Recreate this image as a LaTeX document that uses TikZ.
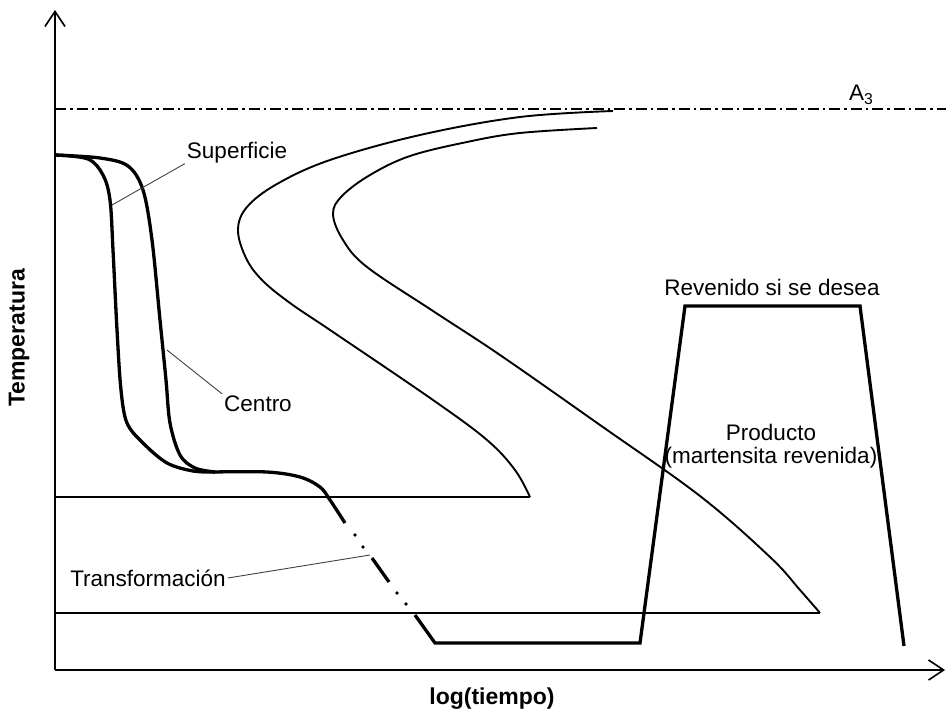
\documentclass[tikz,border=0pt]{standalone}
\usepackage{fontspec}
\setmainfont{Liberation Sans}
\usetikzlibrary{arrows.meta}
\begin{document}
\begin{tikzpicture}[x=1pt,y=-1pt,
  axisline/.style={line width=2pt,-{Straight Barb[length=15pt,width=20pt,line width=1.6pt]}},
  coolline/.style={line width=3.3pt,line join=round},
  tcurve/.style={line width=1.9pt,line join=round},
  hline/.style={line width=1.9pt},
  leader/.style={line width=0.9pt,black!75},
  lbl/.style={inner sep=0pt,font=\fontsize{22.5}{26}\selectfont},
  axlbl/.style={inner sep=0pt,font=\fontsize{23}{27}\selectfont\bfseries},
  dotmark/.style={fill=black,circle,inner sep=0pt,minimum size=3.8pt}]
\useasboundingbox (0,0) rectangle (946,717);

% axes
\coordinate (O) at (55,670);
\coordinate (ytop) at (55,10);
\coordinate (xend) at (945,670);
\draw[axisline] (O) -- (ytop);
\draw[axisline] (O) -- (xend);
\node[axlbl,rotate=90] (ylab) at (19,338) {Temperatura};
\node[axlbl] (xlab) at (492,699) {log(tiempo)};

% A3 line
\coordinate (a3l) at (55,109);
\coordinate (a3r) at (946,109);
\draw[line width=2.5pt,dash pattern=on 11pt off 4pt on 2.5pt off 4pt] (a3l) -- (a3r);
\node[lbl,anchor=base west] (a3) at (849,101) {A\textsubscript{3}};

% start and end of transformation
\draw[tcurve] plot[smooth,tension=0.6] coordinates {
  (613,111) (520,117) (420,135) (330,160) (277,184) (247,207) (238,230)
  (246,258) (262,280) (290,303) (333,332) (433,400) (487,440) (515,470) (530,497)};
\draw[tcurve] plot[smooth,tension=0.6] coordinates {
  (597,128) (520,133) (467,142) (410,156) (370,175) (342,196) (333,214)
  (343,240) (367,267) (433,311) (500,355) (600,425) (700,496) (770,557)
  (800,590) (820,613)};
\coordinate (h1l) at (55,497);
\coordinate (h1r) at (530,497);
\coordinate (h2l) at (55,613);
\coordinate (h2r) at (820,613);
\draw[hline] (h1l) -- (h1r);
\draw[hline] (h2l) -- (h2r);

% cooling curves: surface and centre
\draw[coolline] plot[smooth,tension=0.55] coordinates {
  (55,155) (88,159) (103,175) (110,200) (113,250) (117,330) (121,390)
  (127,423) (143,443) (167,463) (193,471) (215,472)};
\draw[coolline] plot[smooth,tension=0.55] coordinates {
  (55,155) (100,158) (128,166) (143,190) (152,240) (160,320) (166,380)
  (170,423) (180,455) (195,468) (215,472)};
\draw[coolline] plot[smooth,tension=0.55] coordinates {
  (213,472) (267,472) (300,477) (320,487) (330,500) (345,523)};
% dotted part of the quench path
\node[dotmark] (d1) at (355,535) {};
\node[dotmark] (d2) at (363,547) {};
\coordinate (m1) at (372,558);
\coordinate (m2) at (389,582);
\draw[coolline] (m1) -- (m2);
\node[dotmark] (d3) at (397,593) {};
\node[dotmark] (d4) at (406,604) {};
% hold, then tempering
\coordinate (q1) at (415,615);
\coordinate (q2) at (435,643);
\coordinate (q3) at (640,643);
\coordinate (q4) at (685,306);
\coordinate (q5) at (860,306);
\coordinate (q6) at (904,646);
\draw[coolline,line join=miter] (q1) -- (q2) -- (q3) -- (q4) -- (q5) -- (q6);

% labels
\node[lbl] (sup) at (237,153) {Superficie};
\coordinate (supend) at (112,205);
\draw[leader] (sup.south west) ++(-2,0) -- (supend);
\node[lbl] (cen) at (258,404) {Centro};
\coordinate (cenend) at (167,350);
\draw[leader] (cen.north west) ++(-2,-2) -- (cenend);
\node[lbl] (tra) at (148,578) {Transformación};
\coordinate (traend) at (370,555);
\draw[leader] (tra.east) ++(2,0) -- (traend);
\node[lbl] (rev) at (772,287) {Revenido si se desea};
\node[lbl] (prod) at (771,432) {Producto};
\node[lbl] (mart) at (771,458) {(martensita revenida)};
\end{tikzpicture}
\end{document}
